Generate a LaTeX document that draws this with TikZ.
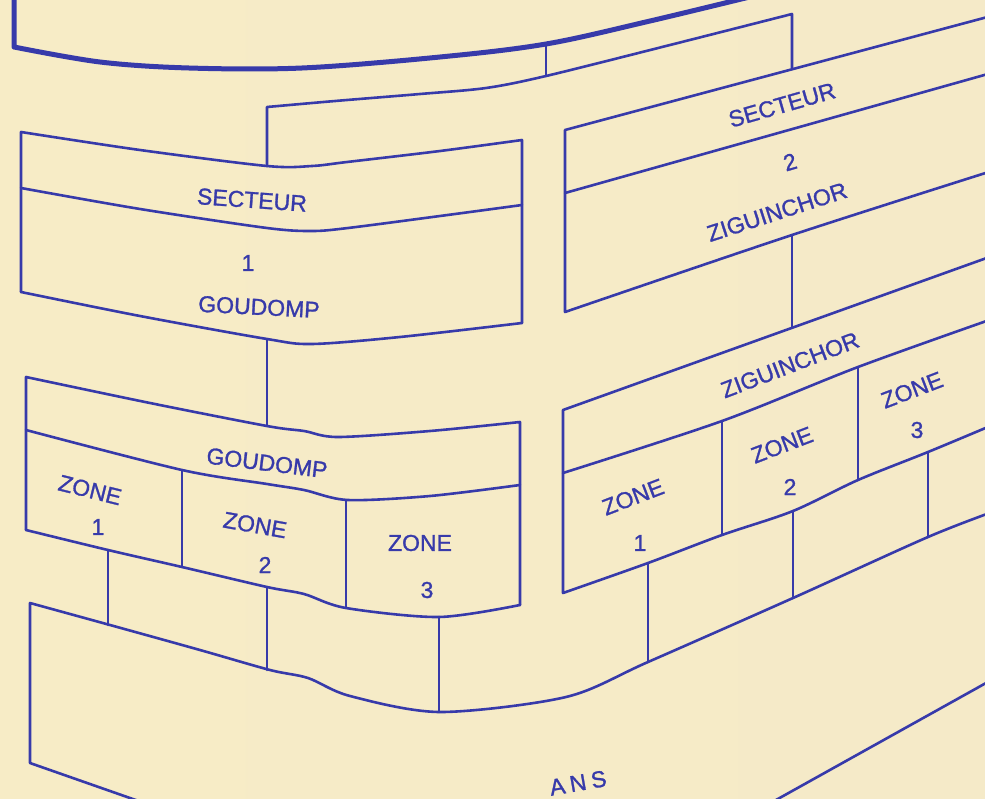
\documentclass[tikz,border=0pt]{standalone}
\usepackage{fontspec}
\setmainfont{Liberation Sans}
\newfontfamily\stencilfont[FakeBold=1.2]{Liberation Sans}
\usepackage{xcolor}
\definecolor{ink}{RGB}{55,58,170}
\definecolor{paperL}{RGB}{247,236,198}
\definecolor{paperM}{RGB}{252,249,226}
\definecolor{paperR}{RGB}{245,234,200}

\begin{document}
\begin{tikzpicture}[
    x=1pt, y=-1pt,
    thinline/.style={draw=ink, line width=2.6pt, line join=round, line cap=round},
    heavyline/.style={draw=ink, line width=5pt, line join=round, line cap=round},
    lettering/.style={text=ink, font=\stencilfont\fontsize{23}{25}\selectfont, inner sep=0pt}
]
\useasboundingbox (0,0) rectangle (985,798);
\shade[left color=paperL, middle color=paperM, right color=paperR] (0,0) rectangle (985,798);
\clip (0,0) rectangle (985,798);

% head office box
\draw[heavyline] (14,-10) -- plot[smooth, tension=.55] coordinates {(14,47) (100,62) (189,68) (302,68) (440,57) (546,44) (650,21) (770,-8)};

% fork to the two sectors
\coordinate (topfoot) at (546,44);
\coordinate (fork) at (546,76);
\coordinate (sec1top) at (267,166);
\coordinate (sec2top) at (792,68);
\draw[thinline] (topfoot) -- (fork);
\draw[thinline] (sec1top) -- plot[smooth, tension=.5] coordinates {(267,107) (312,103) (347,100) (420,94) (486,88) (546,76) (670,45) (792,14)} -- (sec2top);

% secteur 1
\draw[thinline] (21,292) -- plot[smooth, tension=.5] coordinates {(21,132) (140,150) (267,166) (312,166) (347,162) (440,151) (522,140)} -- (522,323);
\draw[thinline] plot[smooth, tension=.5] coordinates {(21,188) (140,209) (267,228) (312,231) (348,228) (440,216) (522,205)};
\draw[thinline] plot[smooth, tension=.5] coordinates {(21,292) (140,316) (267,339) (312,344) (400,337) (522,323)};
\node[lettering, rotate=-4] (sec1head) at (252,200) {SECTEUR};
\node[lettering] (sec1num) at (248,263) {1};
\node[lettering, rotate=-3] (sec1name) at (259,307) {GOUDOMP};

% secteur 2
\draw[thinline] (995,15) -- (565,130) -- plot[smooth, tension=.5] coordinates {(565,312) (792,235) (995,170)};
\draw[thinline] (565,193) -- (995,72);
\node[lettering, rotate=16] (sec2head) at (782,105) {SECTEUR};
\node[lettering, rotate=16] (sec2num) at (790,162) {2};
\node[lettering, rotate=18] (sec2name) at (777,212) {ZIGUINCHOR};

% sector to zone boxes
\draw[thinline] (267,339) -- (267,426);
\draw[thinline] (792,235) -- (792,328);

% goudomp zones
\draw[thinline] (26,530) -- plot[smooth, tension=.5] coordinates {(26,377) (150,403) (267,426) (304,431) (338,437) (430,431) (520,422)} -- (520,605);
\draw[thinline] plot[smooth, tension=.5] coordinates {(26,430) (182,470) (267,484) (304,490) (348,500) (430,496) (520,485)};
\draw[thinline] plot[smooth, tension=.5] coordinates {(26,530) (108,550) (182,567) (267,587) (304,594) (346,608) (439,617) (520,605)};
\draw[thinline] (182,470) -- (182,567);
\draw[thinline] (346,500) -- (346,608);
\node[lettering, rotate=-7] (goudhead) at (267,463) {GOUDOMP};
\node[lettering, rotate=-14] (gz1) at (90,490) {ZONE};
\node[lettering] (gz1n) at (98,527) {1};
\node[lettering, rotate=-10] (gz2) at (255,525) {ZONE};
\node[lettering] (gz2n) at (265,565) {2};
\node[lettering] (gz3) at (420,543) {ZONE};
\node[lettering] (gz3n) at (427,590) {3};

% ziguinchor zones
\draw[thinline] (995,255) -- (563,410) -- plot[smooth, tension=.5] coordinates {(563,593) (648,563) (722,535) (793,511) (858,480) (928,452) (995,424)};
\draw[thinline] plot[smooth, tension=.5] coordinates {(563,473) (722,421) (858,367) (995,318)};
\draw[thinline] (722,421) -- (722,535);
\draw[thinline] (858,367) -- (858,480);
\node[lettering, rotate=21] (zighead) at (790,365) {ZIGUINCHOR};
\node[lettering, rotate=21] (zz1) at (633,497) {ZONE};
\node[lettering] (zz1n) at (640,543) {1};
\node[lettering, rotate=21] (zz2) at (782,445) {ZONE};
\node[lettering] (zz2n) at (790,487) {2};
\node[lettering, rotate=21] (zz3) at (912,390) {ZONE};
\node[lettering] (zz3n) at (917,430) {3};

% links down to the lower level
\draw[thinline] (108,550) -- (108,625);
\draw[thinline] (267,587) -- (267,670);
\draw[thinline] (439,617) -- (439,712);
\draw[thinline] (648,563) -- (648,662);
\draw[thinline] (793,511) -- (793,598);
\draw[thinline] (928,452) -- (928,537);

% lower level box
\draw[thinline] (150,805) -- (30,763) -- plot[smooth, tension=.5] coordinates {(30,603) (110,625) (200,650) (270,670) (308,678) (350,696) (440,712) (566,697) (648,662) (793,598) (928,537) (995,511)};
\draw[thinline] (767,805) -- (995,678);
\node[lettering, rotate=10] (tail) at (578,783) {A\hspace{5pt}N\hspace{5pt}S};
\end{tikzpicture}
\end{document}
